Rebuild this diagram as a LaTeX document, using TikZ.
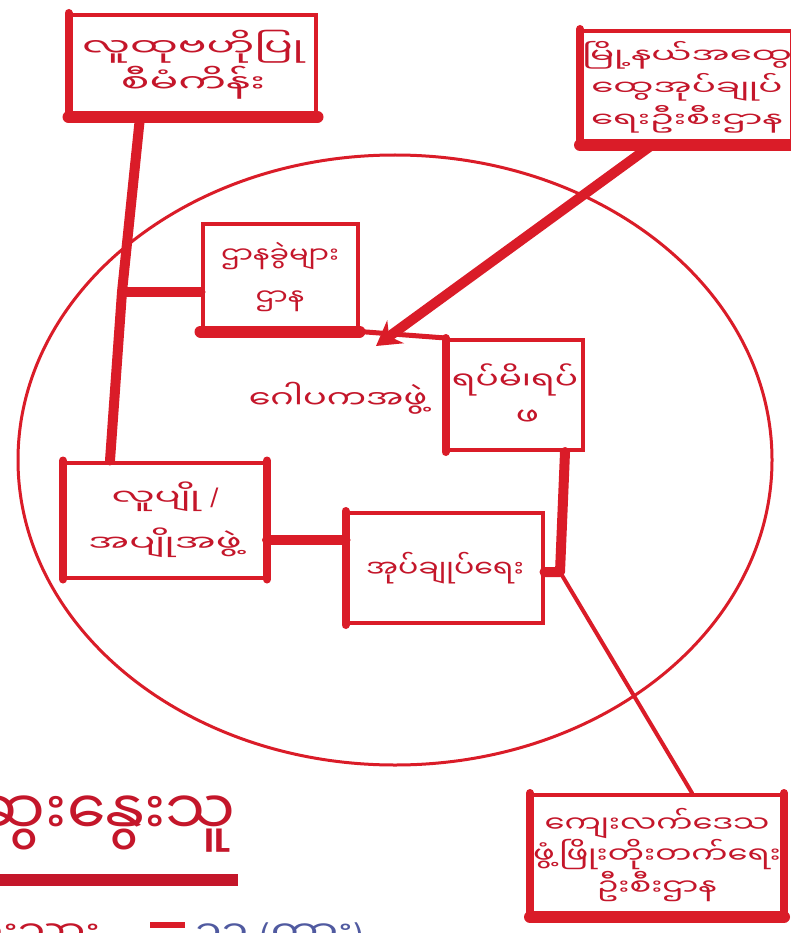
\documentclass[tikz,border=0pt]{standalone}
\usepackage{fontspec}
\newfontfamily\myA[Script=Myanmar,FakeStretch=1.7]{Noto Sans Myanmar UI}
\newfontfamily\myB[Script=Myanmar,FakeStretch=1.4]{Noto Sans Myanmar UI}
\newfontfamily\myC[Script=Myanmar,FakeStretch=1.25]{Noto Sans Myanmar UI}
\newfontfamily\myD[Script=Myanmar]{Noto Sans Myanmar UI}
\newfontfamily\latf{DejaVu Sans}
\usetikzlibrary{arrows.meta,calc}
\definecolor{inkred}{RGB}{218,28,40}
\definecolor{textred}{RGB}{196,22,42}
\definecolor{inkblue}{RGB}{80,90,160}
\tikzset{
  box/.style={draw=inkred, line width=4pt, align=center, inner sep=0pt, text=textred},
  base/.style={inkred, line width=12pt, line cap=round},
  side/.style={inkred, line width=8pt, line cap=round},
  conn/.style={inkred, line width=10pt, line cap=round, line join=round},
  thin/.style={inkred, line width=4pt, line cap=round},
}
\begin{document}
\begin{tikzpicture}[x=1pt,y=-1pt]
\useasboundingbox (0,0) rectangle (791,933);
\fill[white] (0,0) rectangle (791,933);
\begin{scope}
\clip (0,0) rectangle (791,933);
% big circle
\draw[inkred, line width=3pt] (395,460) ellipse [x radius=377, y radius=305];

% boxes
\node[box, minimum width=245pt, minimum height=100pt, font=\myA\fontsize{25}{36}\selectfont] (tl) at (193,65) {လူထုဗဟိုပြု\\စီမံကိန်း};
\node[box, minimum width=195pt, minimum height=112pt, font=\myA\fontsize{21}{32}\selectfont] (tr) at (687,87) {မြို့နယ်အထွေ\\ထွေအုပ်ချုပ်\\ရေးဦးစီးဌာန};
\node[box, minimum width=155pt, minimum height=105pt, font=\myC\fontsize{23}{42}\selectfont] (dh) at (280,277) {ဌာနခွဲများ\\ဌာန};
\node[box, minimum width=135pt, minimum height=110pt, font=\myB\fontsize{24.5}{36}\selectfont] (rm) at (515,395) {ရပ်မိ၊ရပ်\\\hspace*{25pt}ဖ};
\node[box, minimum width=200pt, minimum height=115pt, font=\myA\fontsize{22.5}{46}\selectfont] (lp) at (165,520) {လူပျို {\latf\fontsize{24}{30}\selectfont /}\\အပျိုအဖွဲ့};
\node[box, minimum width=195pt, minimum height=110pt, font=\myC\fontsize{24}{30}\selectfont] (ay) at (445,568) {အုပ်ချုပ်ရေး};
\node[box, minimum width=250pt, minimum height=120pt, font=\myB\fontsize{23}{30}\selectfont] (br) at (657,855) {ကျေးလက်ဒေသ\\ဖွံ့ဖြိုးတိုးတက်ရေး\\ဦးစီးဌာန};

% heavy edges of the boxes
\draw[base] (tl.south west) -- (tl.south east);
\draw[side] (tl.north west) -- (tl.south west);
\draw[base] (tr.south west) -- (tr.south east);
\draw[side] (tr.north west) -- (tr.south west);
\draw[base] (dh.south west) -- (dh.south east);
\draw[side] (rm.north west) -- (rm.south west);
\draw[side] (lp.north west) -- (lp.south west);
\draw[side] (lp.north east) -- (lp.south east);
\draw[side] (ay.north west) -- (ay.south west);
\draw[base] (br.south west) -- (br.south east);
\draw[side] (br.north west) -- (br.south west);
\draw[side] (br.north east) -- (br.south east);

% centre label
\node[font=\myB\fontsize{25}{30}\selectfont, text=textred] (gp) at (338,398) {ဂေါပကအဖွဲ့};

% connectors
\coordinate (j1) at (122,292);
\coordinate (j2) at (560,572);
\coordinate (ae) at (376,346);
\draw[conn] ([xshift=-53pt]tl.south) -- (j1) -- ([xshift=-55pt]lp.north);
\draw[conn] (j1) -- (j1 -| dh.west);
\draw[conn, -{Stealth[length=24pt,width=28pt]}] ([xshift=-35pt]tr.south) -- (ae);
\draw[inkred, line width=5pt] (dh.south east) -- (rm.north west);
\draw[conn] ([xshift=50pt]rm.south) -- (j2) -- (j2 -| ay.east);
\draw[conn] ([yshift=-20pt]lp.east) -- ([yshift=-20pt]lp.east -| ay.west);
\draw[thin] (j2) -- ([xshift=35pt]br.north);

% bottom-left title, cut at the page edge
\node[anchor=base east, font=\myD\fontsize{62}{64}\selectfont, text=textred, inner sep=0pt] (ds) at (236,835) {ဆွေးနွေးသူ};
\draw[textred, line width=12pt] (0,880) -- (238,880);
\node[anchor=base west, inner sep=0pt, font=\myC\fontsize{34}{36}\selectfont, text=textred] (ft1) at (-25,945) {ဦးသား};
\fill[inkred] (150,922) rectangle (185,928);
\node[anchor=base west, inner sep=0pt, font=\myC\fontsize{34}{36}\selectfont, text=inkblue] (ft2) at (195,945) {၁၁ {\latf\fontsize{30}{36}\selectfont (}ကား{\latf\fontsize{30}{36}\selectfont )}};
\end{scope}
\end{tikzpicture}
\end{document}
